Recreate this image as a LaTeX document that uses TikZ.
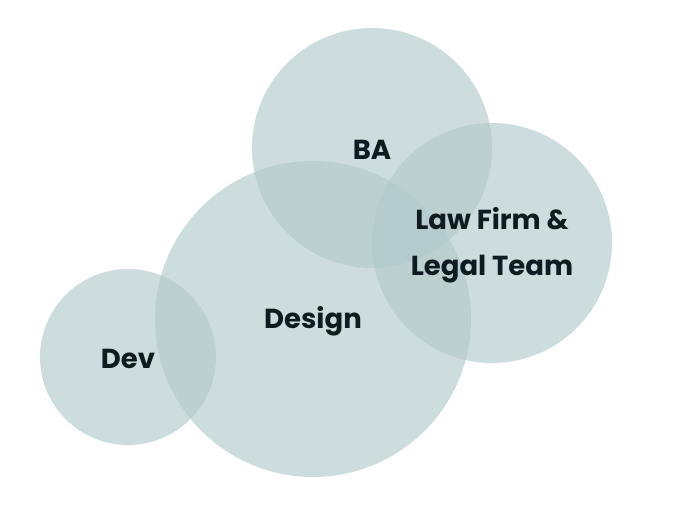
\documentclass[tikz,border=0pt]{standalone}
\usepackage{fontspec}
\setmainfont{Poppins}
\usepackage{xcolor}
\definecolor{bubble}{RGB}{179,202,202}
\definecolor{ink}{RGB}{14,28,34}

\begin{document}
\begin{tikzpicture}[x=1pt,y=-1pt,
	bubble/.style={circle,fill=bubble,fill opacity=0.66,inner sep=0pt},
	lbl/.style={text=ink,font=\fontsize{27.5}{46}\selectfont\bfseries,align=center,yshift=-2pt}]
	\useasboundingbox (0,0) rectangle (673,507);
	\node[bubble,minimum size=240pt] (ba) at (372,148) {};
	\node[bubble,minimum size=240pt] (law) at (492,243) {};
	\node[bubble,minimum size=316pt] (design) at (313,319) {};
	\node[bubble,minimum size=176pt] (dev) at (128,357) {};
	\node[lbl] (balabel) at (ba.center) {BA};
	\node[lbl] (lawlabel) at (law.center) {Law Firm \&\\Legal Team};
	\node[lbl] (designlabel) at (design.center) {Design};
	\node[lbl] (devlabel) at (dev.center) {Dev};
\end{tikzpicture}
\end{document}
